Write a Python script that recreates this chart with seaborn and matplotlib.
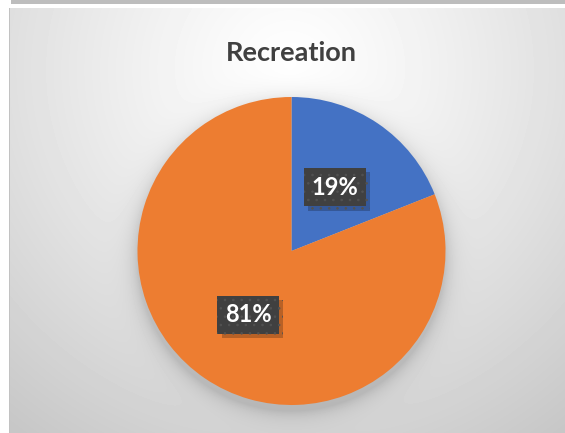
import matplotlib
matplotlib.use("Agg")
import matplotlib.pyplot as plt
import matplotlib.patheffects as pe
import numpy as np
import seaborn as sns

# chart data
TITLE = "Recreation"
SLICES = ["Recreation", "Other"]
SHARES = [19, 81]
COLORS = ["#4472C4", "#ED7D31"]

W, H = 565, 433

sns.set_theme(style="white")
plt.rcParams["font.family"] = ["Lato", "DejaVu Sans"]
plt.rcParams["hatch.linewidth"] = 0.6

fig = plt.figure(figsize=(W / 100, H / 100), dpi=100, facecolor="white")

# background: pixel-space axes with a radial grey gradient
bg = fig.add_axes([0, 0, 1, 1])
bg.set_xlim(0, W)
bg.set_ylim(H, 0)
bg.axis("off")

yy, xx = np.mgrid[0:H, 0:W] + 0.5
dist = np.hypot(xx - 290, yy - 70)
shade = 1 - 0.22 * np.clip(dist / 450, 0, 1) ** 1.2

# pie geometry (pixels)
cx, cy, r = 291.5, 251, 154
d = np.hypot(xx - cx, yy - (cy + 6)) - r
shadow = 0.15 * np.exp(-np.clip(d, 0, None) / 9.0)
img = shade * (1 - shadow)

img[:8, :] = 1.0
img[:, :9] = 1.0
img[:4, 11:] = 0.74
img[8:, 9] = 0.76
bg.imshow(img, cmap="gray", vmin=0, vmax=1, extent=(0, W, H, 0), interpolation="bilinear")

# pie
ax = fig.add_axes([(cx - r) / W, (H - cy - r) / H, 2 * r / W, 2 * r / H])
wedges, texts, autotexts = ax.pie(
    SHARES,
    labels=None,
    colors=COLORS,
    startangle=90,
    counterclock=False,
    autopct=lambda p: f"{p:.0f}%",
    pctdistance=0.5,
    wedgeprops=dict(linewidth=0),
    textprops=dict(color="white", fontweight="bold", fontsize=17),
)
ax.set_xlim(-1, 1)
ax.set_ylim(-1, 1)
ax.set_aspect("equal")

for t in autotexts:
    t.set_bbox(dict(boxstyle="square,pad=0.32", facecolor="#404040",
                    edgecolor="#525252", linewidth=0, hatch=".."))
    t.get_bbox_patch().set_path_effects([
        pe.SimplePatchShadow(offset=(3, -3), shadow_rgbFace="black", alpha=0.22),
        pe.Normal(),
    ])

fig.text(291 / W, 1 - 61 / H, TITLE, ha="center", va="baseline",
         fontsize=19.5, fontweight="bold", color="#404040")

fig.savefig("out.png", dpi=100)
